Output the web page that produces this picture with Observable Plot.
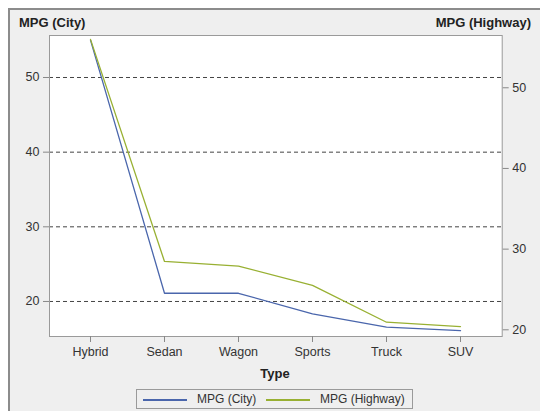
<!DOCTYPE html>
<html>
<head>
<meta charset="utf-8">
<script src="https://cdn.jsdelivr.net/npm/d3@7"></script>
<script src="https://cdn.jsdelivr.net/npm/@observablehq/plot@0.6"></script>
<style>
  html, body { margin: 0; padding: 0; background: #fff; }
  #wrap { position: relative; width: 540px; height: 411px; overflow: hidden; background: #fff;
          font-family: "Liberation Sans", Arial, sans-serif; color: #222; }
  #bg { position: absolute; left: 8px; top: 8px; width: 600px; height: 600px; background: #efefef;
        border-left: 2px solid #8c8c8c; border-top: 2px solid #8c8c8c; box-sizing: border-box; }
  #chart { position: absolute; left: 0; top: 0; }
  .title { position: absolute; font-weight: bold; font-size: 13px; white-space: nowrap; }
  #legend { position: absolute; left: 136px; top: 389px; width: 277px; height: 20px; box-sizing: border-box;
            border: 1px solid #9a9a9a; font-size: 12px; color: #333; }
  .sw { position: absolute; top: 9px; height: 1.5px; }
  .lab { position: absolute; top: 2px; white-space: nowrap; }
</style>
</head>
<body>
<div id="wrap">
  <div id="bg"></div>
  <div id="chart"></div>
  <div class="title" style="left:19px; top:15px;">MPG (City)</div>
  <div class="title" style="right:9px; top:15px;">MPG (Highway)</div>
  <div class="title" style="left:275px; top:366px; transform:translateX(-50%);">Type</div>
  <div id="legend"></div>
</div>
<script>
const types = ["Hybrid", "Sedan", "Wagon", "Sports", "Truck", "SUV"];
const mpgCity = [55, 21.1, 21.1, 18.35, 16.56, 16.1];
const mpgHighway = [56, 28.47, 27.9, 25.5, 20.94, 20.4];
const cityTicks = [20, 30, 40, 50];
const highwayTicks = [20, 30, 40, 50];
const seriesNames = ["MPG (City)", "MPG (Highway)"];
const seriesColors = ["#4a66ac", "#98b032"];

const cityDomain = [15.31, 55.625];
const highwayDomain = [19.17, 56.48];
const mapH = d3.scaleLinear().domain(highwayDomain).range(cityDomain);

const rows = types.map((t, i) => ({type: t, city: mpgCity[i], hwy: mpgHighway[i]}));

const chart = Plot.plot({
  width: 540,
  height: 411,
  marginLeft: 49,
  marginRight: 38.3,
  marginTop: 35,
  marginBottom: 75,
  style: {background: "transparent", fontFamily: "'Liberation Sans', Arial, sans-serif", fontSize: "12.5px", color: "#333"},
  x: {type: "point", domain: types, padding: 0.55, axis: null},
  y: {domain: cityDomain, axis: null},
  marks: [
    Plot.frame({fill: "white", stroke: "none"}),
    Plot.ruleY(cityTicks, {stroke: "#444", strokeDasharray: "4,3", strokeWidth: 1}),
    Plot.line(rows, {x: "type", y: "city", stroke: seriesColors[0], strokeWidth: 1.3}),
    Plot.line(rows, {x: "type", y: d => mapH(d.hwy), stroke: seriesColors[1], strokeWidth: 1.3}),
    Plot.frame({stroke: "#9a9a9a"}),
    Plot.axisX({tickSize: 6, tickPadding: 5, label: null, stroke: "#888", fill: "#333", fontSize: 12.5}),
    Plot.axisY(cityTicks, {anchor: "left", tickSize: 6, tickPadding: 4, label: null, stroke: "#888", fill: "#333", fontSize: 12.5}),
    Plot.axisY(highwayTicks, {anchor: "right", y: mapH, tickFormat: d => d, tickSize: 6, tickPadding: 4, label: null, stroke: "#888", fill: "#333", fontSize: 12.5})
  ]
});
document.getElementById("chart").appendChild(chart);

const legend = document.getElementById("legend");
const legendPos = [{sw: 6, lab: 60}, {sw: 129, lab: 183}];
seriesNames.forEach((name, i) => {
  const sw = document.createElement("div");
  sw.className = "sw";
  sw.style.left = legendPos[i].sw + "px";
  sw.style.width = "44px";
  sw.style.background = seriesColors[i];
  legend.appendChild(sw);
  const lab = document.createElement("div");
  lab.className = "lab";
  lab.style.left = legendPos[i].lab + "px";
  lab.textContent = name;
  legend.appendChild(lab);
});
</script>
</body>
</html>
